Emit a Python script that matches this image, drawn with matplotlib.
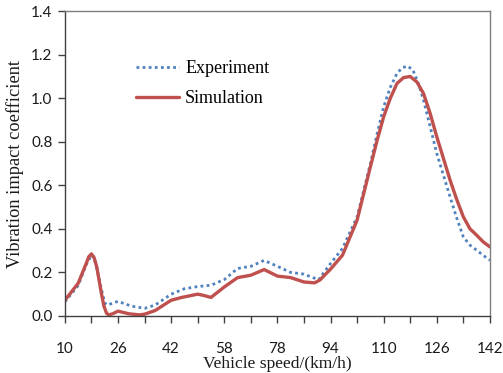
import numpy as np
import matplotlib
matplotlib.use("Agg")
import matplotlib.pyplot as plt

# category axis: 17 evenly spaced speed slots, every other one labelled
tick_labels = ["10", "", "26", "", "42", "", "58", "", "78", "", "94", "", "110", "", "126", "", "142"]

# curve readings (x in category slots, y = impact coefficient)
exp_pos = [0, 0.5, 0.8, 1.0, 1.1, 1.2, 1.38, 1.5, 1.6, 2.0, 2.5, 3.0, 3.4, 4.0, 4.5, 5.0,
           5.5, 6.0, 6.5, 7.0, 7.5, 8.0, 8.5, 9.0, 9.55, 10.0, 10.45, 11.0, 11.5, 11.75,
           12.0, 12.25, 12.5, 12.7, 12.9, 13.1, 13.3, 13.5, 13.75, 14.0, 14.5, 14.75,
           15.0, 15.25, 15.5, 15.75, 16.0]
exp_val = [0.065, 0.14, 0.235, 0.28, 0.265, 0.22, 0.12, 0.06, 0.05, 0.067, 0.045, 0.035,
           0.05, 0.10, 0.125, 0.135, 0.141, 0.167, 0.218, 0.228, 0.255, 0.228, 0.20, 0.192,
           0.166, 0.241, 0.31, 0.455, 0.70, 0.835, 0.961, 1.05, 1.114, 1.14, 1.148, 1.13,
           1.07, 0.992, 0.87, 0.746, 0.547, 0.45, 0.363, 0.325, 0.302, 0.278, 0.256]

sim_pos = [0, 0.5, 0.8, 0.9, 1.0, 1.1, 1.2, 1.38, 1.47, 1.57, 1.65, 1.8, 2.0, 2.4, 2.8,
           3.0, 3.4, 4.0, 4.4, 5.0, 5.2, 5.5, 6.0, 6.5, 7.0, 7.5, 8.0, 8.5, 9.0, 9.4, 9.6,
           10.0, 10.45, 11.0, 11.5, 11.75, 12.0, 12.25, 12.5, 12.75, 13.0, 13.25, 13.5,
           13.75, 14.0, 14.5, 14.75, 15.0, 15.25, 15.5, 15.75, 16.0]
sim_val = [0.072, 0.15, 0.24, 0.272, 0.285, 0.268, 0.225, 0.10, 0.045, 0.012, 0.005, 0.01,
           0.022, 0.01, 0.005, 0.008, 0.025, 0.072, 0.085, 0.10, 0.095, 0.085, 0.133,
           0.176, 0.187, 0.213, 0.183, 0.176, 0.156, 0.152, 0.165, 0.215, 0.279, 0.44,
           0.685, 0.805, 0.915, 1.0, 1.068, 1.095, 1.10, 1.075, 1.022, 0.93, 0.823, 0.624,
           0.535, 0.455, 0.40, 0.371, 0.34, 0.317]

fig = plt.figure(figsize=(5.03, 3.73), dpi=100)
ax = fig.add_axes([0.129, 0.153, 0.845, 0.817])

ax.plot(exp_pos, exp_val, color="#4F81BD", lw=2.0, linestyle=(0, (1, 1.2)),
        label="Experiment")
ax.plot(sim_pos, sim_val, color="#C0504D", lw=2.4, label="Simulation",
        solid_capstyle="round", solid_joinstyle="round")

ax.set_xlim(0, 16)
ax.set_ylim(0, 1.4)
ax.set_xticks(np.arange(len(tick_labels)))
ax.set_xticklabels(tick_labels)
ax.set_yticks(np.arange(0, 1.41, 0.2))
ax.set_yticklabels(["%.1f" % v for v in np.arange(0, 1.41, 0.2)])

for s in ax.spines.values():
    s.set_color("#7f7f7f")
    s.set_linewidth(1.0)
ax.spines["left"].set_color("#404040")
ax.spines["bottom"].set_color("#404040")

ax.tick_params(axis="both", direction="out", length=5, width=1, color="#404040",
               labelsize=11, labelcolor="#1a1a1a")
ax.tick_params(axis="x", pad=14)
ax.tick_params(axis="y", pad=4)
for lab in ax.get_xticklabels() + ax.get_yticklabels():
    lab.set_fontfamily("Lato")

ax.set_xlabel("Vehicle speed/(km/h)", fontfamily="Liberation Serif", fontsize=12.6,
              labelpad=0, color="#1a1a1a")
ax.set_ylabel("Vibration impact coefficient", fontfamily="Liberation Serif",
              fontsize=13.2, labelpad=5, color="#1a1a1a")

leg = ax.legend(loc="upper left", bbox_to_anchor=(0.13, 0.893), frameon=False,
                prop={"family": "Liberation Serif", "size": 13}, handlelength=2.35,
                handletextpad=0.35, labelspacing=0.72)

fig.savefig("out.png", dpi=100)
